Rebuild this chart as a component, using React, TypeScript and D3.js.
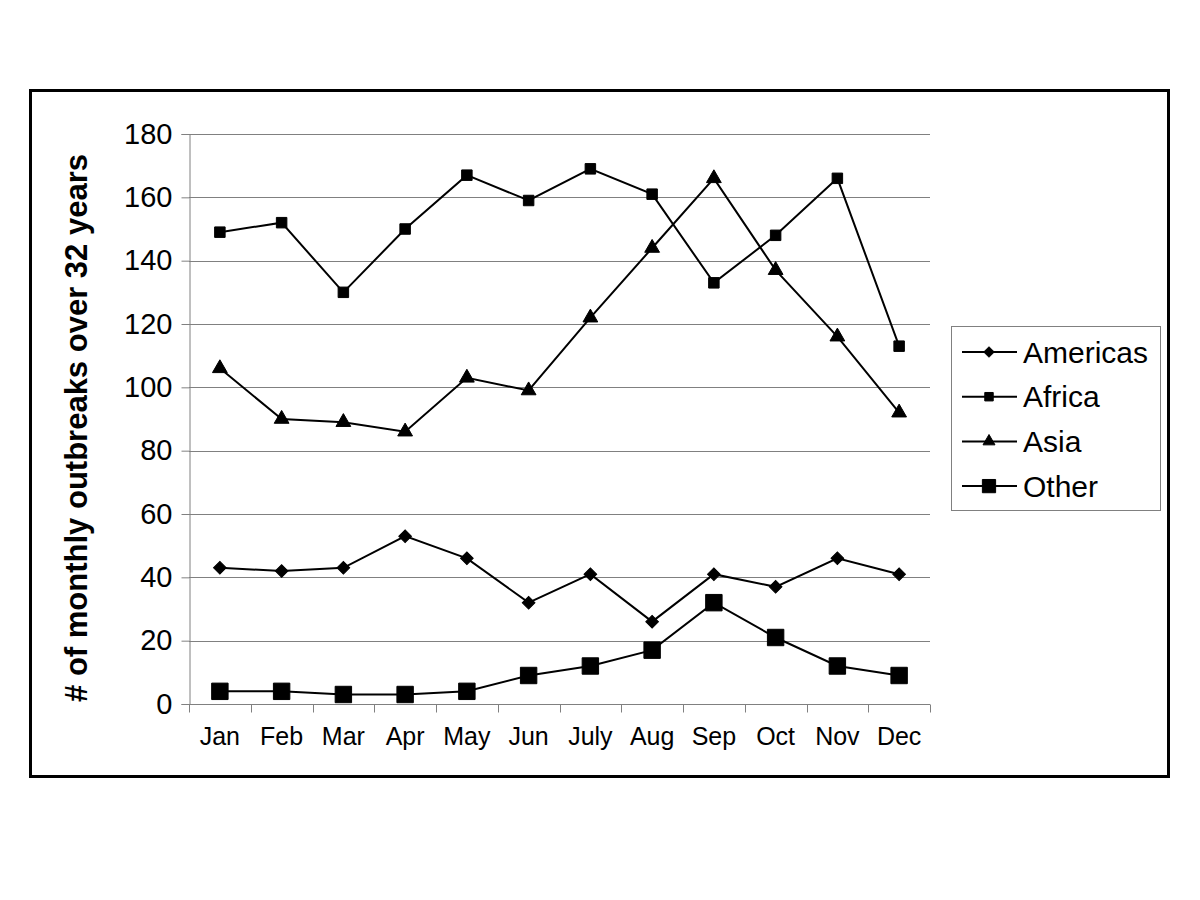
import React, { useEffect, useRef } from 'react'
import * as d3 from 'd3'

const months = ['Jan', 'Feb', 'Mar', 'Apr', 'May', 'Jun', 'July', 'Aug', 'Sep', 'Oct', 'Nov', 'Dec']
const americas = [43, 42, 43, 53, 46, 32, 41, 26, 41, 37, 46, 41]
const africa = [149, 152, 130, 150, 167, 159, 169, 161, 133, 148, 166, 113]
const asia = [106, 90, 89, 86, 103, 99, 122, 144, 166, 137, 116, 92]
const other = [4, 4, 3, 3, 4, 9, 12, 17, 32, 21, 12, 9]
const yTicks = [0, 20, 40, 60, 80, 100, 120, 140, 160, 180]
const seriesNames = ['Americas', 'Africa', 'Asia', 'Other']

const App: React.FC = () => {
  const ref = useRef<SVGSVGElement>(null)

  useEffect(() => {
    if (!ref.current) return
    const svg = d3.select(ref.current)
    svg.selectAll('*').remove()

    const left = 189
    const right = 930
    const top = 134
    const bottom = 704

    svg.append('rect').attr('width', 1200).attr('height', 900).attr('fill', '#fff')

    // outer frame
    svg.append('rect')
      .attr('x', 30.5).attr('y', 90.5)
      .attr('width', 1138).attr('height', 686)
      .attr('fill', 'none').attr('stroke', '#000').attr('stroke-width', 3)

    const x = d3.scaleBand<string>().domain(months).range([left, right]).padding(0)
    const y = d3.scaleLinear().domain([0, 180]).range([bottom, top])
    const cx = (i: number) => (x(months[i]) || 0) + x.bandwidth() / 2

    // gridlines
    svg.append('g')
      .selectAll('line')
      .data(yTicks.filter(t => t > 0))
      .join('line')
      .attr('x1', left).attr('x2', right)
      .attr('y1', d => Math.round(y(d)) + 0.5).attr('y2', d => Math.round(y(d)) + 0.5)
      .attr('stroke', '#808080').attr('stroke-width', 1)

    // y axis
    const yAxis = svg.append('g')
      .attr('transform', `translate(${left + 0.5},0)`)
      .call(d3.axisLeft(y).tickValues(yTicks).tickSize(8).tickPadding(9).tickFormat(d3.format('d')))
    yAxis.select('.domain').attr('stroke', '#808080')
    yAxis.selectAll('.tick line').attr('stroke', '#808080')
    yAxis.selectAll('.tick text')
      .attr('fill', '#000')
      .style('font-family', 'Arial, "Liberation Sans", sans-serif')
      .style('font-size', '29px')

    // x axis
    const xAxis = svg.append('g').attr('transform', `translate(0,${bottom + 0.5})`)
    xAxis.append('line')
      .attr('x1', left).attr('x2', right)
      .attr('stroke', '#808080')
    xAxis.selectAll('line.tk')
      .data(d3.range(months.length + 1))
      .join('line')
      .attr('class', 'tk')
      .attr('x1', i => Math.round(left + i * x.bandwidth()) + 0.5)
      .attr('x2', i => Math.round(left + i * x.bandwidth()) + 0.5)
      .attr('y1', 0).attr('y2', 8)
      .attr('stroke', '#808080')
    xAxis.selectAll('text')
      .data(months)
      .join('text')
      .attr('x', (_, i) => cx(i))
      .attr('y', 40)
      .attr('text-anchor', 'middle')
      .style('font-family', 'Arial, "Liberation Sans", sans-serif')
      .style('font-size', '25px')
      .text(d => d)

    // y title
    svg.append('text')
      .attr('transform', `translate(87,428) rotate(-90)`)
      .attr('text-anchor', 'middle')
      .style('font-family', 'Arial, "Liberation Sans", sans-serif')
      .style('font-size', '31px')
      .style('font-weight', 'bold')
      .text('# of monthly outbreaks over 32 years')

    const line = d3.line<number>().x((_, i) => cx(i)).y(d => y(d))

    const markerFor = (name: string, legend: boolean) => {
      const k = legend ? 0.65 : 1
      if (name === 'Americas') return { path: d3.symbol(d3.symbolSquare, 80 * k)(), rot: 45 }
      if (name === 'Africa') return { path: d3.symbol(d3.symbolSquare, 110 * k)(), rot: 0 }
      if (name === 'Asia') return { path: d3.symbol(d3.symbolTriangle, 95 * k)(), rot: 0 }
      return { path: d3.symbol(d3.symbolSquare, 270 * k)(), rot: 0 }
    }

    const allSeries = [americas, africa, asia, other]
    allSeries.forEach((vals, si) => {
      const name = seriesNames[si]
      svg.append('path')
        .datum(vals)
        .attr('d', line)
        .attr('fill', 'none')
        .attr('stroke', '#000')
        .attr('stroke-width', 2)
      const m = markerFor(name, false)
      svg.append('g')
        .selectAll('path')
        .data(vals)
        .join('path')
        .attr('d', m.path)
        .attr('transform', (d, i) => `translate(${cx(i)},${y(d)}) rotate(${m.rot})`)
        .attr('fill', '#000')
        .attr('stroke', '#000')
        .attr('stroke-width', 1)
    })

    // legend
    const lg = svg.append('g')
    lg.append('rect')
      .attr('x', 951.5).attr('y', 326.5)
      .attr('width', 209).attr('height', 184)
      .attr('fill', '#fff').attr('stroke', '#808080').attr('stroke-width', 1)
    seriesNames.forEach((name, i) => {
      const ly = 352 + i * 44.7
      lg.append('line')
        .attr('x1', 962).attr('x2', 1017)
        .attr('y1', ly).attr('y2', ly)
        .attr('stroke', '#000').attr('stroke-width', 2)
      const m = markerFor(name, true)
      lg.append('path')
        .attr('d', m.path)
        .attr('transform', `translate(989,${ly}) rotate(${m.rot})`)
        .attr('fill', '#000')
        .attr('stroke', '#000')
        .attr('stroke-width', 1)
      lg.append('text')
        .attr('x', 1023).attr('y', ly)
        .attr('dy', '0.35em')
        .style('font-family', 'Arial, "Liberation Sans", sans-serif')
        .style('font-size', '30px')
        .text(name)
    })
  }, [])

  return (
    <svg
      ref={ref}
      width={1200}
      height={900}
      style={{ position: 'absolute', left: 0, top: 0, display: 'block' }}
    />
  )
}

export default App
